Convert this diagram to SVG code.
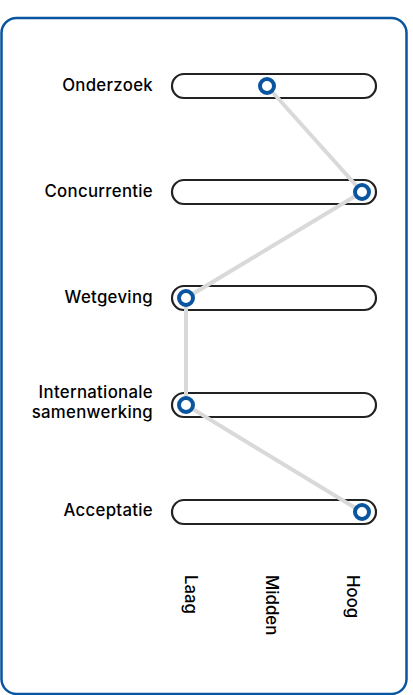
<svg xmlns="http://www.w3.org/2000/svg" width="413" height="695" viewBox="0 0 413 695">
<style>
.frame{fill:#fff;stroke:#0a55a0;stroke-width:2.5}
.bar{fill:#fff;stroke:#222;stroke-width:2.2}
.dot{fill:#fff;stroke:#0a55a0;stroke-width:4}
.lbl{font-family:Inter,"Liberation Sans",sans-serif;font-size:16.8px;font-weight:500;fill:#000;text-anchor:end;letter-spacing:0.3px}
.ax{font-family:Inter,"Liberation Sans",sans-serif;font-size:16.8px;font-weight:500;fill:#000}
.link{fill:none;stroke:#d9d9d9;stroke-width:4}
</style>
<rect class="frame" x="1.5" y="18" width="405" height="676" rx="15"/>
<g id="bars">
<rect class="bar" x="172" y="74" width="204" height="24" rx="12"/>
<rect class="bar" x="172" y="180" width="204" height="24" rx="12"/>
<rect class="bar" x="172" y="286" width="204" height="24" rx="12"/>
<rect class="bar" x="172" y="393" width="204" height="24" rx="12"/>
<rect class="bar" x="172" y="500" width="204" height="24" rx="12"/>
</g>
<g id="connectors">
<polyline class="link" points="267,86 362,192 186,298 186,405 362,512"/>
</g>
<g id="onderzoek"><text class="lbl" x="153" y="91">Onderzoek</text><circle class="dot" cx="267" cy="86" r="7"/></g>
<g id="concurrentie"><text class="lbl" x="153" y="197">Concurrentie</text><circle class="dot" cx="362" cy="192" r="7"/></g>
<g id="wetgeving"><text class="lbl" x="153" y="303">Wetgeving</text><circle class="dot" cx="186" cy="298" r="7"/></g>
<g id="internationale"><text class="lbl" x="153" y="398">Internationale</text><text class="lbl" x="153" y="418">samenwerking</text><circle class="dot" cx="186" cy="405" r="7"/></g>
<g id="acceptatie"><text class="lbl" x="153" y="516">Acceptatie</text><circle class="dot" cx="362" cy="512" r="7"/></g>
<g id="axis">
<text class="ax" transform="translate(185,575) rotate(90)">Laag</text>
<text class="ax" transform="translate(266,575) rotate(90)">Midden</text>
<text class="ax" transform="translate(347,575) rotate(90)">Hoog</text>
</g>
</svg>
